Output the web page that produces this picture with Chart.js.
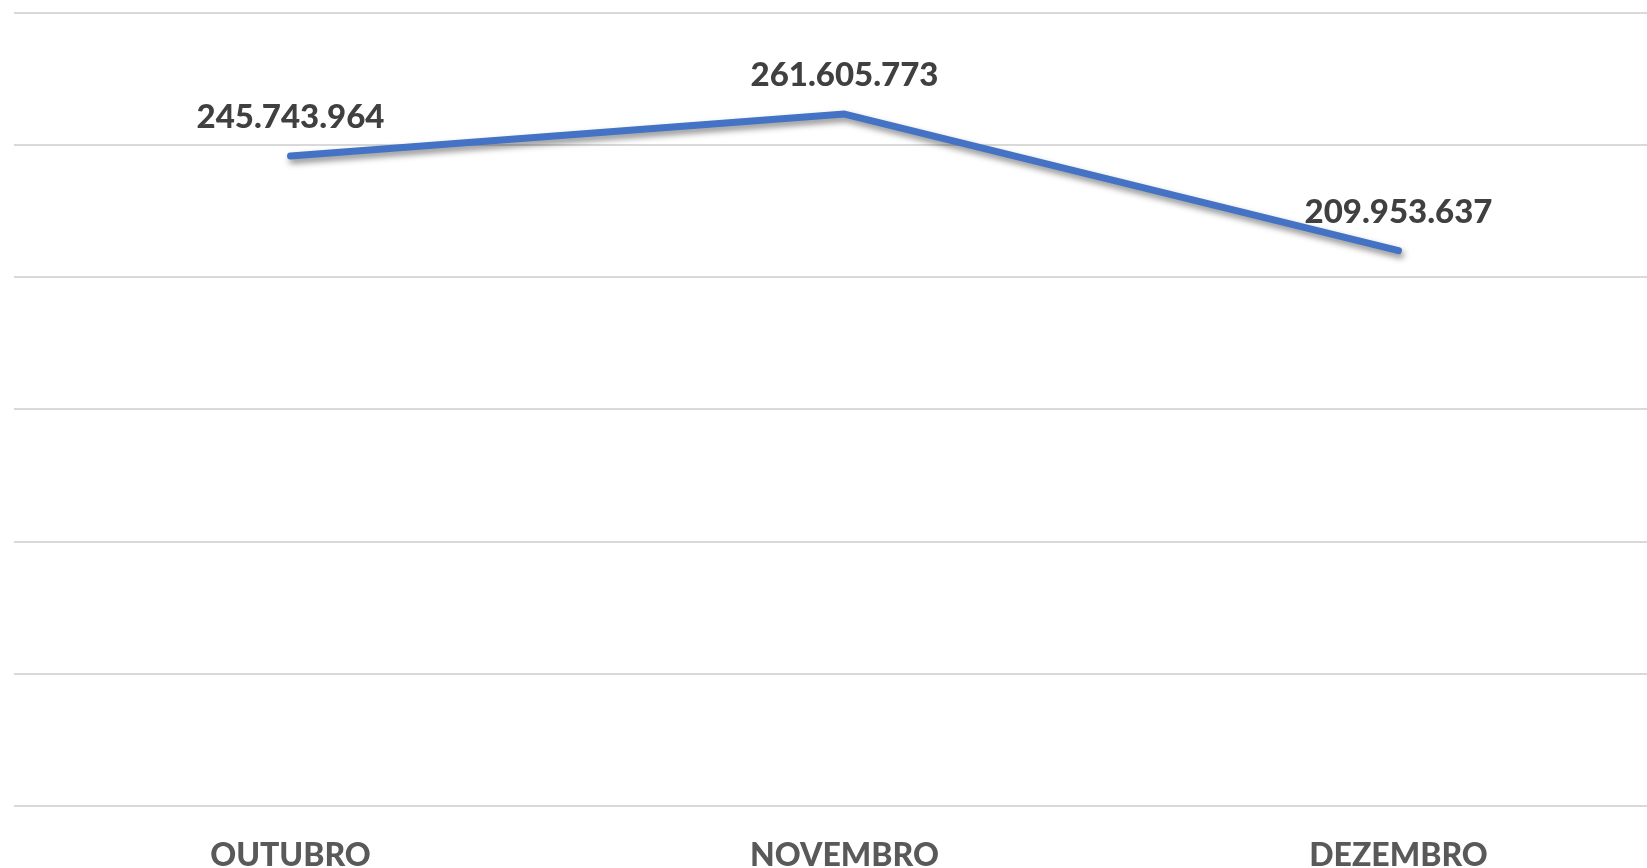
<!DOCTYPE html>
<html>
<head>
<meta charset="utf-8">
<script src="https://cdn.jsdelivr.net/npm/chart.js@4/dist/chart.umd.min.js"></script>
<style>
  html, body { margin: 0; padding: 0; background: #fff; overflow: hidden; }
  #wrap { width: 1680px; height: 868px; }
</style>
</head>
<body>
<div id="wrap"><canvas id="lineChart" width="1680" height="868"></canvas></div>
<script>
const months = ["OUTUBRO", "NOVEMBRO", "DEZEMBRO"];
const totals = [245743964, 261605773, 209953637];
const yTicks = [0, 50000000, 100000000, 150000000, 200000000, 250000000, 300000000];

function formatBR(n) {
  return n.toString().replace(/\B(?=(\d{3})+(?!\d))/g, ".");
}

// sombra da linha
const shadowPlugin = {
  id: "lineShadow",
  beforeDatasetDraw(chart) {
    const c = chart.ctx;
    c.save();
    c.shadowColor = "rgba(0,0,0,0.45)";
    c.shadowBlur = 6;
    c.shadowOffsetX = 2;
    c.shadowOffsetY = 4;
  },
  afterDatasetDraw(chart) {
    chart.ctx.restore();
  },
};

// rótulos dos valores
const valueLabels = {
  id: "valueLabels",
  afterDatasetsDraw(chart) {
    const c = chart.ctx;
    const meta = chart.getDatasetMeta(0);
    c.save();
    c.font = "900 33px Lato";
    c.fillStyle = "#404040";
    c.textAlign = "center";
    c.textBaseline = "alphabetic";
    meta.data.forEach((pt, i) => {
      c.fillText(formatBR(totals[i]), pt.x, pt.y - 28);
    });
    c.restore();
  },
};

const ctx = document.getElementById("lineChart").getContext("2d");
const chart = new Chart(ctx, {
  type: "line",
  data: {
    labels: months,
    datasets: [
      {
        data: totals,
        borderColor: "#4472C4",
        borderWidth: 7,
        borderCapStyle: "round",
        borderJoinStyle: "round",
        pointRadius: 0,
        tension: 0,
        fill: false,
      },
    ],
  },
  options: {
    responsive: false,
    animation: false,
    layout: { padding: { left: 13.5, right: 4.5, top: 12.5, bottom: 0 } },
    scales: {
      x: {
        offset: true,
        grid: { display: false, drawTicks: false },
        border: { display: false },
        ticks: {
          color: "#595959",
          font: { family: "Lato", size: 32, weight: "900" },
          padding: 30,
        },
        afterFit: (scale) => { scale.height = 62; },
      },
      y: {
        min: 0,
        max: 300000000,
        afterBuildTicks: (scale) => { scale.ticks = yTicks.map((v) => ({ value: v })); },
        ticks: { display: false },
        grid: { color: "#d9d9d9", lineWidth: 2, drawTicks: false },
        border: { display: false },
        afterFit: (scale) => { scale.width = 0; },
      },
    },
    plugins: {
      legend: { display: false },
      title: { display: false },
      tooltip: { enabled: false },
    },
  },
  plugins: [shadowPlugin, valueLabels],
});
</script>
</body>
</html>
